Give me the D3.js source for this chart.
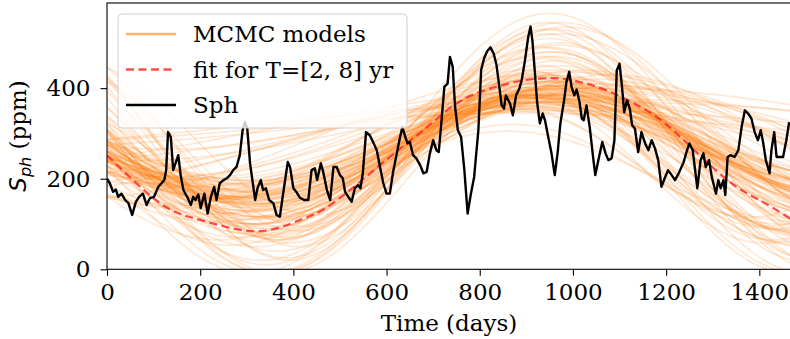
<!DOCTYPE html>
<html>
<head>
<meta charset="utf-8">
<script src="https://cdn.jsdelivr.net/npm/d3@7"></script>
<style>
  body { margin: 0; background: #fff; }
  svg { display: block; }
  text { font-family: "DejaVu Serif", serif; fill: #000; }
</style>
</head>
<body>
<svg id="chart" width="790" height="339"></svg>
<script>
// observed Sph series (days, ppm)
var sphDays = [0,6,13,19,24,31,39,46,54,62,69,77,85,92,101,110,117,123,127,131,137,142,148,153,158,164,172,180,185,190,196,201,209,216,223,230,235,242,250,257,264,271,278,285,291,296,301,307,318,323,330,335,341,348,357,364,371,378,388,393,400,407,414,423,432,439,446,451,459,464,472,479,486,493,500,506,511,518,525,532,539,544,549,556,564,571,579,586,593,600,607,614,622,629,634,639,645,650,657,664,672,679,686,693,700,707,712,718,724,731,736,742,747,753,760,767,774,781,788,797,803,809,816,823,830,836,842,847,852,856,865,871,878,885,890,897,904,909,913,918,923,929,935,940,947,954,961,967,973,981,986,992,997,1003,1008,1014,1019,1023,1029,1036,1044,1048,1056,1063,1070,1076,1083,1089,1094,1100,1105,1110,1116,1122,1127,1133,1140,1147,1155,1162,1169,1176,1183,1190,1197,1204,1212,1219,1226,1237,1245,1250,1257,1267,1274,1280,1285,1292,1298,1307,1312,1317,1323,1327,1332,1338,1347,1355,1362,1369,1376,1383,1390,1397,1403,1408,1414,1422,1426,1432,1437,1444,1451,1458,1464];
var sphPpm = [200,190,171,176,160,167,153,146,120,149,160,167,142,157,160,182,190,197,219,303,292,219,237,252,208,175,160,142,160,153,165,135,167,123,160,182,153,190,197,201,208,219,226,252,307,325,311,234,153,179,197,175,179,153,146,120,116,167,237,225,179,170,158,153,153,219,223,197,234,215,175,153,226,226,208,201,171,160,149,179,186,179,212,303,296,281,263,226,190,167,167,215,256,292,314,296,278,281,252,245,230,212,215,256,285,263,259,329,403,410,469,447,359,307,292,219,123,167,204,307,440,465,482,490,476,451,403,362,355,384,366,340,384,399,417,461,513,536,505,439,370,322,344,329,292,256,208,256,322,373,414,436,403,384,397,370,333,329,362,314,241,208,248,281,256,241,245,285,439,454,406,347,373,355,318,311,259,303,278,263,285,267,241,182,201,219,208,197,210,235,263,278,263,179,241,256,226,241,204,167,197,179,197,164,248,252,248,263,314,351,344,333,303,285,307,281,241,212,263,303,248,248,248,285,325];

// fit for T=[2, 8] yr
var fitDays = [0,114,200,321,414,485,607,679,750,822,893,951,1001,1072,1144,1215,1323,1400,1468];
var fitPpm = [252,146,109,84,109,146,248,307,366,399,417,422,417,395,359,307,204,153,111];

// MCMC model draws: mean, amplitude, period (days), day of peak
var modelMean = [270,260,280,275,265,285,255,290,270,262,278,268,283,258,272,288,266,276,252,294,264,280,270,286,257,274,282,262,290,268,279,260,285,272,266,296,254,276,284,263,
  280,300,270,290,310,260,285,275,305,265,295,280,250,315,270,290,300,260,320,
  300,310,290,320,295,305,285,315,300,280,325,295,310,290,
  230,220,240,210,245,225,235,215,250,205,238,228,242,218,
  290,280,300,270,285,295,260,275,265,290,
  268,274,262,280,286,258,271,277,265,283,
  220,240,200,230,210,250];
var modelAmp = [110,120,100,130,90,115,140,95,125,105,135,85,145,110,120,100,150,90,125,110,135,80,160,120,100,140,105,115,130,95,125,145,85,155,110,100,130,115,140,120,
  200,230,250,180,210,220,260,190,240,170,200,230,180,220,260,170,190,240,245,
  60,40,80,50,90,70,100,30,110,120,60,140,90,150,
  150,130,170,110,180,160,120,140,190,100,150,175,120,160,
  130,150,110,170,120,100,160,140,120,90,
  115,105,125,95,130,110,100,120,135,108,
  230,250,210,240,220,200];
var modelPeriod = [1300,1250,1350,1280,1400,1320,1220,1380,1260,1340,1300,1420,1240,1310,1360,1270,1290,1330,1230,1390,1280,1440,1250,1300,1360,1210,1410,1270,1330,1290,1350,1260,1380,1240,1320,1300,1280,1370,1230,1340,
  1200,1150,1100,1250,1300,1180,1120,1050,1220,1000,1350,1080,1150,1260,1200,1030,1120,1280,1180,
  1800,2400,2000,2900,1700,2600,2200,2000,1900,2500,1600,2100,2800,1650,
  1200,1100,1250,1150,1050,1300,1000,1180,1120,1250,1080,1220,1320,1020,
  1500,1450,1550,1400,1600,1480,1350,1500,1450,1550,
  1300,1280,1330,1260,1310,1350,1290,1270,1320,1300,
  1150,1200,1100,1250,1180,1300];
var modelPeak = [940,950,930,960,920,980,945,935,970,915,955,900,965,925,990,945,960,910,935,975,950,905,955,1000,930,940,965,985,920,950,940,970,925,945,995,955,915,960,935,980,
  950,960,940,930,970,955,945,935,975,920,965,950,925,985,940,960,930,970,950,
  950,1000,900,1050,980,1100,950,880,1020,1000,930,980,1050,960,
  900,880,910,870,900,890,880,920,895,860,905,875,890,900,
  1050,1080,1040,1020,1100,1060,1000,900,860,880,
  945,935,955,950,940,960,930,948,952,938,
  930,950,920,960,900,970];

var xTicks = [0,200,400,600,800,1000,1200,1400];
var yTicks = [0,200,400];
var legendLabels = ["MCMC models", "fit for T=[2, 8] yr", "Sph"];

var svg = d3.select("#chart"),
  FONT = "23px",
  MARGINS = { top: 3, left: 107, right: 791, bottom: 269.3 };

var xScale = d3.scaleLinear().domain([0, 1468]).range([MARGINS.left, MARGINS.right]);
var yScale = d3.scaleLinear().domain([0, 588]).range([MARGINS.bottom, MARGINS.top]);

svg.append("clipPath").attr("id", "plotclip")
  .append("rect")
  .attr("x", MARGINS.left).attr("y", MARGINS.top)
  .attr("width", MARGINS.right - MARGINS.left)
  .attr("height", MARGINS.bottom - MARGINS.top);

var plot = svg.append("g").attr("clip-path", "url(#plotclip)");

// model curves
var sampleDays = d3.range(0, 1476, 8);
var modelLine = d3.line()
  .x(function(d) { return xScale(d[0]); })
  .y(function(d) { return yScale(d[1]); })
  .curve(d3.curveBasis);

modelMean.forEach(function(m, i) {
  var pts = sampleDays.map(function(t) {
    return [t, m + modelAmp[i] * Math.cos(2 * Math.PI * (t - modelPeak[i]) / modelPeriod[i])];
  });
  plot.append("path")
    .attr("d", modelLine(pts))
    .attr("fill", "none")
    .attr("stroke", "#ff7f0e")
    .attr("stroke-opacity", 0.17)
    .attr("stroke-width", 1.7);
});

// fit
var fitLine = d3.line()
  .x(function(d, i) { return xScale(fitDays[i]); })
  .y(function(d) { return yScale(d); })
  .curve(d3.curveNatural);

plot.append("path")
  .attr("d", fitLine(fitPpm))
  .attr("fill", "none")
  .attr("stroke", "#ff2a2a")
  .attr("stroke-opacity", 0.85)
  .attr("stroke-width", 2.2)
  .attr("stroke-dasharray", "8,4.5");

// Sph
var sphLine = d3.line()
  .x(function(d, i) { return xScale(sphDays[i]); })
  .y(function(d) { return yScale(d); });

plot.append("path")
  .attr("d", sphLine(sphPpm))
  .attr("fill", "none")
  .attr("stroke", "#000")
  .attr("stroke-width", 2.4)
  .attr("stroke-linejoin", "round");

// axes
var xAxis = d3.axisBottom(xScale).tickValues(xTicks).tickFormat(d3.format("d"))
  .tickSize(6.5).tickSizeOuter(0).tickPadding(8);
var yAxis = d3.axisLeft(yScale).tickValues(yTicks).tickFormat(d3.format("d"))
  .tickSize(6.5).tickSizeOuter(0).tickPadding(10);

var gx = svg.append("g")
  .attr("transform", "translate(0," + MARGINS.bottom + ")")
  .call(xAxis);
var gy = svg.append("g")
  .attr("transform", "translate(" + MARGINS.left + ",0)")
  .call(yAxis);

[gx, gy].forEach(function(g) {
  g.select(".domain").remove();
  g.selectAll("line").attr("stroke", "#000").attr("stroke-width", 1.1);
  g.selectAll("text").style("font-family", "DejaVu Serif").style("font-size", FONT).attr("fill", "#000");
});

// spines
svg.append("rect")
  .attr("x", MARGINS.left).attr("y", MARGINS.top)
  .attr("width", MARGINS.right - MARGINS.left)
  .attr("height", MARGINS.bottom - MARGINS.top)
  .attr("fill", "none")
  .attr("stroke", "#000")
  .attr("stroke-width", 1.1);

// axis labels
svg.append("text")
  .attr("x", 449).attr("y", 331)
  .attr("text-anchor", "middle")
  .style("font-size", FONT)
  .text("Time (days)");

var ylab = svg.append("text")
  .attr("transform", "translate(26,136) rotate(-90)")
  .attr("text-anchor", "middle")
  .style("font-size", FONT);
ylab.append("tspan").style("font-family", "DejaVu Sans").style("font-style", "italic").text("S");
ylab.append("tspan").style("font-family", "DejaVu Sans").style("font-style", "italic")
  .style("font-size", "16px").attr("dy", 5).text("ph");
ylab.append("tspan").attr("dy", -5).text(" (ppm)");

// legend
var legend = svg.append("g");
legend.append("rect")
  .attr("x", 118).attr("y", 14).attr("width", 289).attr("height", 114).attr("rx", 4)
  .attr("fill", "#fff").attr("fill-opacity", 0.8)
  .attr("stroke", "#d0d0d0").attr("stroke-width", 1);

var legendStyles = [
  { stroke: "#ff7f0e", opacity: 0.6, dash: null },
  { stroke: "#ff2a2a", opacity: 0.85, dash: "8,4.5" },
  { stroke: "#000", opacity: 1, dash: null }
];
legendLabels.forEach(function(lbl, i) {
  var y = 34 + i * 35.5;
  legend.append("line")
    .attr("x1", 126).attr("x2", 176).attr("y1", y).attr("y2", y)
    .attr("stroke", legendStyles[i].stroke)
    .attr("stroke-opacity", legendStyles[i].opacity)
    .attr("stroke-width", 2.4)
    .attr("stroke-dasharray", legendStyles[i].dash);
  legend.append("text")
    .attr("x", 193).attr("y", y + 8)
    .style("font-size", FONT)
    .text(lbl);
});
</script>
</body>
</html>
